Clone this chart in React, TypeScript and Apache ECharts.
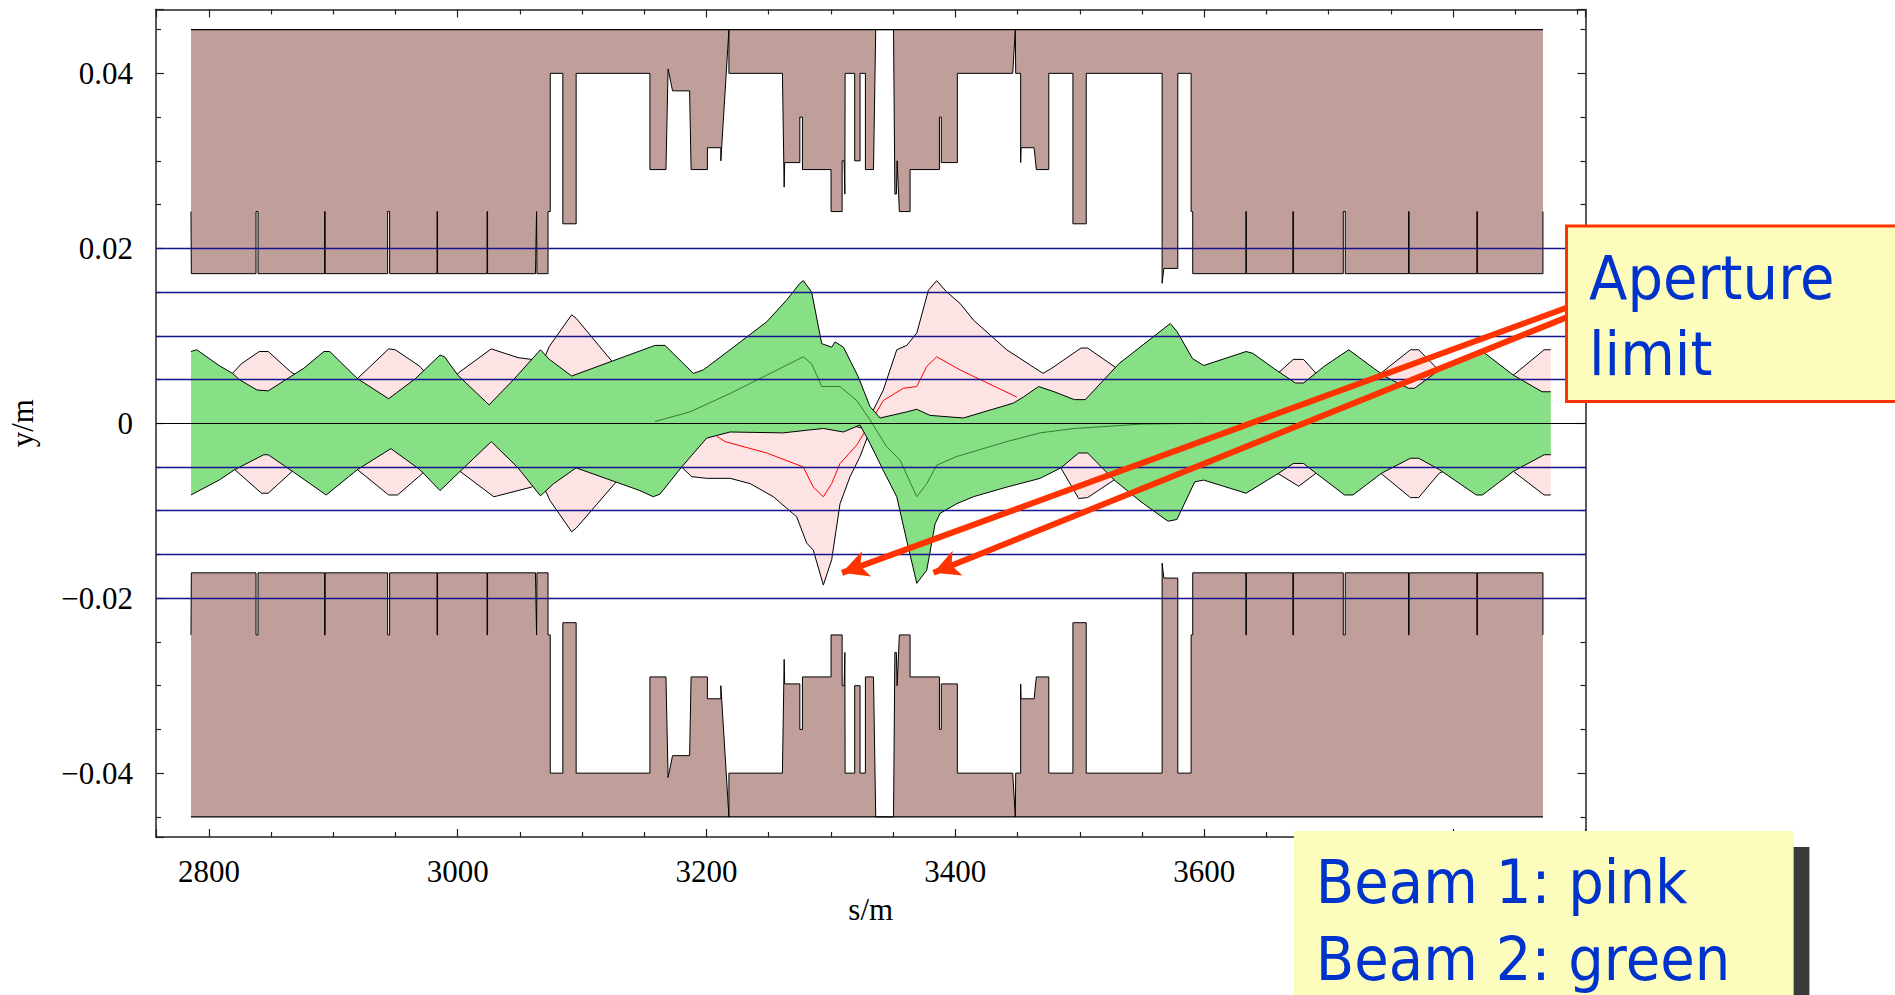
import React, { useEffect, useRef } from 'react';
import * as echarts from 'echarts';

// ---------------- axis ranges ----------------
const X_MIN = 2757.5;
const X_MAX = 3906.5;
const Y_MIN = -0.0473;
const Y_MAX = 0.0473;
const PIPE_EDGE = 0.045; // outer edge of the aperture shading (m)

// ---------------- aperture half-width a(s) (m) ----------------
const aperture: [number, number][] = [
  [2785.6, 0.0242], [2785.9, 0.0171],
  [2837.9, 0.0171], [2837.9, 0.0242], [2839.5, 0.0242], [2839.5, 0.0171],
  [2893.0, 0.0171], [2893.0, 0.0242], [2893.5, 0.0242], [2893.5, 0.0171],
  [2943.7, 0.0171], [2943.7, 0.0242], [2945.3, 0.0242], [2945.3, 0.0171],
  [2983.4, 0.0171], [2983.4, 0.0242], [2983.8, 0.0242], [2983.8, 0.0171],
  [3023.6, 0.0171], [3023.6, 0.0242], [3024.0, 0.0242], [3024.0, 0.0171],
  [3062.5, 0.0171], [3063.4, 0.0242], [3063.7, 0.0171],
  [3072.6, 0.0171], [3072.6, 0.0242], [3074.4, 0.0242], [3074.4, 0.0400],
  [3084.5, 0.0400], [3084.5, 0.0228], [3095.2, 0.0228], [3095.2, 0.0400],
  [3154.5, 0.0400], [3154.5, 0.0290], [3167.4, 0.0290], [3169.1, 0.0405], [3172.7, 0.0380],
  [3186.4, 0.0380], [3187.6, 0.0290], [3200.7, 0.0290], [3200.7, 0.0315],
  [3211.5, 0.0315], [3211.5, 0.0300], [3218.0, 0.0450], [3218.0, 0.0400],
  [3261.0, 0.0400], [3262.4, 0.0270], [3262.8, 0.0298], [3275.0, 0.0298], [3275.0, 0.0350],
  [3277.1, 0.0350], [3277.1, 0.0290], [3300.1, 0.0290], [3300.1, 0.0242],
  [3309.0, 0.0242], [3309.0, 0.0300], [3310.6, 0.0300], [3311.2, 0.0262], [3311.4, 0.0400],
  [3319.1, 0.0400], [3319.1, 0.0300], [3323.4, 0.0300], [3323.4, 0.0400],
  [3327.7, 0.0400], [3327.7, 0.0290], [3334.2, 0.0290], [3336.0, 0.0450],
  [3350.3, 0.0450], [3351.4, 0.0262], [3352.6, 0.0262], [3353.2, 0.0300], [3355.0, 0.0242],
  [3363.6, 0.0242], [3363.6, 0.0290], [3387.2, 0.0290], [3387.2, 0.0350],
  [3388.7, 0.0350], [3388.7, 0.0298], [3401.6, 0.0298], [3401.6, 0.0400],
  [3446.1, 0.0400], [3448.2, 0.0450], [3448.5, 0.0400], [3452.5, 0.0400], [3452.5, 0.0298],
  [3452.8, 0.0315], [3463.3, 0.0315], [3465.1, 0.0290], [3475.1, 0.0290], [3475.1, 0.0400],
  [3494.5, 0.0400], [3494.5, 0.0228], [3505.2, 0.0228], [3505.2, 0.0400],
  [3566.2, 0.0400], [3566.2, 0.0160], [3567.6, 0.0177], [3578.8, 0.0177], [3578.8, 0.0400],
  [3589.5, 0.0400], [3589.5, 0.0242], [3590.8, 0.0242], [3590.8, 0.0171],
  [3633.5, 0.0171], [3633.5, 0.0242], [3633.9, 0.0242], [3633.9, 0.0171],
  [3671.3, 0.0171], [3671.3, 0.0242], [3671.7, 0.0242], [3671.7, 0.0171],
  [3711.8, 0.0171], [3711.8, 0.0242], [3713.4, 0.0242], [3713.4, 0.0171],
  [3764.3, 0.0171], [3764.3, 0.0242], [3764.7, 0.0242], [3764.7, 0.0171],
  [3819.2, 0.0171], [3819.2, 0.0242], [3819.6, 0.0242], [3819.6, 0.0171],
  [3872.3, 0.0171], [3872.3, 0.0242],
];

// ---------------- Beam 1 (pink) envelope ----------------
const beam1Upper: [number, number][] = [
  [2785.6, 0.0036], [2800.0, 0.0041], [2819.0, 0.0057], [2826.1, 0.0068], [2840.5, 0.0082],
  [2847.7, 0.0082], [2865.6, 0.0059], [2880.0, 0.0046], [2894.3, 0.0037], [2919.4, 0.0051],
  [2944.5, 0.0085], [2949.9, 0.0084], [2969.6, 0.0065], [2986.0, 0.0038], [3001.9, 0.0059],
  [3027.0, 0.0085], [3048.5, 0.0075], [3059.3, 0.0073], [3066.5, 0.0064], [3073.7, 0.0088],
  [3091.6, 0.0124], [3095.2, 0.0120], [3123.9, 0.0071], [3140.0, 0.0055], [3160.0, 0.0040],
  [3190.0, 0.0014], [3220.0, -0.0003], [3260.0, -0.0001], [3290.0, 0.0004], [3312.0, -0.0001],
  [3327.0, -0.0006], [3333.0, 0.0012], [3342.1, 0.0038], [3352.9, 0.0084], [3360.9, 0.0089],
  [3369.0, 0.0103], [3378.3, 0.0152], [3385.0, 0.0163], [3393.1, 0.0150], [3403.8, 0.0137],
  [3414.5, 0.0118], [3441.3, 0.0084], [3459.7, 0.0067], [3470.5, 0.0057], [3477.6, 0.0063],
  [3501.0, 0.0086], [3506.3, 0.0086], [3529.6, 0.0063], [3560.0, 0.0046], [3590.0, 0.0038],
  [3625.0, 0.0046], [3660.0, 0.0058], [3671.6, 0.0073], [3679.9, 0.0073], [3690.0, 0.0057],
  [3716.0, 0.0036], [3742.7, 0.0058], [3765.8, 0.0084], [3772.4, 0.0084], [3789.0, 0.0060],
  [3822.0, 0.0036], [3848.5, 0.0055], [3873.3, 0.0084], [3878.6, 0.0084],
];
const beam1Lower: [number, number][] = [
  [2785.6, -0.0036], [2800.0, -0.0041], [2820.8, -0.0053], [2842.3, -0.0080], [2847.7, -0.0080],
  [2867.0, -0.0055], [2894.3, -0.0037], [2919.4, -0.0053], [2944.5, -0.0082], [2951.7, -0.0082],
  [2969.6, -0.0060], [2986.0, -0.0038], [3001.9, -0.0055], [3029.0, -0.0084], [3032.0, -0.0083],
  [3059.3, -0.0073], [3066.5, -0.0064], [3074.0, -0.0088], [3091.6, -0.0124], [3095.2, -0.0120],
  [3128.0, -0.0066], [3150.0, -0.0045], [3166.0, -0.0040], [3180.0, -0.0050], [3188.0, -0.0061],
  [3200.0, -0.0063], [3219.0, -0.0063], [3235.0, -0.0069], [3253.7, -0.0084], [3272.5, -0.0107],
  [3280.5, -0.0137], [3285.8, -0.0145], [3293.9, -0.0185], [3300.6, -0.0156], [3307.3, -0.0092],
  [3315.4, -0.0061], [3323.4, -0.0038], [3331.4, -0.0008], [3335.0, -0.0002], [3341.3, -0.0006],
  [3370.0, -0.0008], [3386.0, -0.0011], [3420.0, -0.0012], [3450.0, -0.0025], [3470.0, -0.0042],
  [3484.8, -0.0051], [3499.1, -0.0086], [3506.3, -0.0085], [3529.6, -0.0063], [3560.0, -0.0046],
  [3590.0, -0.0038], [3625.0, -0.0046], [3660.0, -0.0058], [3676.0, -0.0072], [3690.0, -0.0057],
  [3716.0, -0.0036], [3742.7, -0.0058], [3765.8, -0.0085], [3772.4, -0.0085], [3789.0, -0.0057],
  [3822.0, -0.0036], [3848.5, -0.0055], [3873.3, -0.0082], [3878.6, -0.0082],
];

// ---------------- Beam 2 (green) envelope ----------------
const beam2Upper: [number, number][] = [
  [2785.6, 0.0082], [2790.3, 0.0084], [2808.2, 0.0066], [2819.0, 0.0057], [2824.4, 0.0050],
  [2838.7, 0.0038], [2847.7, 0.0037], [2876.4, 0.0063], [2892.5, 0.0082], [2897.2, 0.0082],
  [2919.4, 0.0051], [2944.5, 0.0028], [2966.0, 0.0051], [2985.8, 0.0078], [2989.4, 0.0076],
  [3000.1, 0.0055], [3025.2, 0.0021], [3045.0, 0.0050], [3066.5, 0.0084], [3073.7, 0.0073],
  [3091.6, 0.0054], [3158.6, 0.0089], [3166.6, 0.0089], [3189.4, 0.0057], [3197.4, 0.0061],
  [3218.9, 0.0084], [3248.4, 0.0116], [3264.5, 0.0141], [3275.1, 0.0160], [3277.8, 0.0163],
  [3284.5, 0.0150], [3292.6, 0.0091], [3300.6, 0.0087], [3303.3, 0.0093], [3310.0, 0.0087],
  [3322.0, 0.0053], [3331.4, 0.0019], [3339.5, 0.0006], [3360.9, 0.0013], [3369.0, 0.0016],
  [3379.6, 0.0009], [3406.4, 0.0006], [3446.6, 0.0023], [3454.7, 0.0030], [3466.9, 0.0042],
  [3479.4, 0.0036], [3495.6, 0.0027], [3504.5, 0.0027], [3531.4, 0.0068], [3572.7, 0.0114],
  [3578.1, 0.0105], [3590.6, 0.0074], [3599.6, 0.0066], [3633.7, 0.0082], [3639.0, 0.0080],
  [3656.7, 0.0062], [3673.3, 0.0046], [3679.9, 0.0046], [3696.4, 0.0065], [3716.2, 0.0084],
  [3736.1, 0.0063], [3746.0, 0.0053], [3764.2, 0.0040], [3769.1, 0.0040], [3789.0, 0.0061],
  [3822.0, 0.0084], [3848.5, 0.0055], [3871.6, 0.0036], [3878.6, 0.0036],
];
const beam2Lower: [number, number][] = [
  [2785.6, -0.0082], [2808.2, -0.0065], [2820.8, -0.0053], [2844.1, -0.0036], [2847.7, -0.0036],
  [2869.2, -0.0057], [2894.3, -0.0082], [2919.4, -0.0053], [2946.3, -0.0029], [2969.6, -0.0053],
  [2985.8, -0.0077], [3001.9, -0.0055], [3027.0, -0.0021], [3048.5, -0.0051], [3066.5, -0.0083],
  [3077.2, -0.0069], [3095.2, -0.0051], [3146.5, -0.0077], [3157.2, -0.0084], [3162.6, -0.0081],
  [3180.0, -0.0050], [3200.1, -0.0017], [3218.9, -0.0010], [3261.7, -0.0011], [3280.5, -0.0008],
  [3293.9, -0.0006], [3310.0, -0.0010], [3323.4, -0.0002], [3331.4, -0.0023], [3342.1, -0.0054],
  [3352.9, -0.0084], [3360.9, -0.0134], [3369.0, -0.0183], [3377.0, -0.0168], [3383.7, -0.0115],
  [3387.7, -0.0103], [3401.1, -0.0092], [3414.5, -0.0084], [3441.3, -0.0073], [3468.1, -0.0063],
  [3484.8, -0.0051], [3499.1, -0.0034], [3506.3, -0.0034], [3527.8, -0.0065], [3549.4, -0.0090],
  [3570.9, -0.0112], [3578.1, -0.0110], [3592.4, -0.0067], [3599.6, -0.0065], [3633.7, -0.0080],
  [3660.0, -0.0057], [3671.6, -0.0046], [3679.9, -0.0046], [3689.8, -0.0057], [3712.9, -0.0082],
  [3719.6, -0.0082], [3742.7, -0.0057], [3765.8, -0.0040], [3772.4, -0.0040], [3789.0, -0.0053],
  [3818.7, -0.0082], [3823.7, -0.0082], [3848.5, -0.0055], [3873.3, -0.0036], [3878.6, -0.0036],
];

// ---------------- closed orbits ----------------
const beam1Orbit: [number, number][] = [
  [3208.2, -0.0015], [3214.9, -0.0021], [3248.4, -0.0034], [3277.8, -0.0050], [3285.8, -0.0073],
  [3293.9, -0.0084], [3300.6, -0.0069], [3307.3, -0.0046], [3320.7, -0.0025], [3331.4, 0.0000],
  [3342.1, 0.0026], [3358.2, 0.0040], [3369.0, 0.0042], [3377.0, 0.0065], [3385.0, 0.0076],
  [3403.8, 0.0061], [3449.3, 0.0030],
];
const beam2Orbit: [number, number][] = [
  [3158.6, 0.0002], [3186.7, 0.0013], [3218.9, 0.0034], [3248.4, 0.0055], [3277.8, 0.0076],
  [3284.5, 0.0068], [3292.6, 0.0042], [3307.3, 0.0042], [3320.7, 0.0026], [3331.4, 0.0004],
  [3344.8, -0.0027], [3355.5, -0.0042], [3369.0, -0.0084], [3377.0, -0.0069], [3385.0, -0.0048],
  [3401.1, -0.0038], [3441.3, -0.0021], [3468.1, -0.0011], [3495.6, -0.0006], [3549.4, -0.0001],
  [3600.0, 0.0000],
];

// ---------------- reference levels & annotation arrows ----------------
const guideLevels = [0.02, 0.015, 0.01, 0.005, 0, -0.005, -0.01, -0.015, -0.02];
const arrowTails: [number, number][] = [[3891.3, 0.0132], [3891.3, 0.0121]];
const arrowHeads: [number, number][] = [[3308.9, -0.0171], [3382.4, -0.0171]];

const AX_FONT = '"Liberation Serif", "Times New Roman", serif';
const BOX_FONT = '"DejaVu Sans", Verdana, sans-serif';

function apertureSeries(sign: number) {
  return {
    type: 'custom',
    z: 1,
    silent: true,
    encode: { x: 0, y: 1 },
    data: [[aperture[0][0], sign * aperture[0][1]]],
    renderItem: (_params: any, api: any) => {
      const prof = aperture.map(([s, a]) => api.coord([s, sign * a]));
      const s0 = aperture[0][0];
      const sN = aperture[aperture.length - 1][0];
      const e0 = api.coord([s0, sign * PIPE_EDGE]);
      const eN = api.coord([sN, sign * PIPE_EDGE]);
      return {
        type: 'group',
        children: [
          { type: 'polygon', shape: { points: [e0, ...prof, eN] }, style: { fill: '#C09E99', stroke: null } },
          { type: 'polyline', shape: { points: prof }, style: { stroke: '#000', lineWidth: 1, fill: null } },
          { type: 'polyline', shape: { points: [e0, eN] }, style: { stroke: '#000', lineWidth: 1.2, fill: null } },
        ],
      };
    },
  };
}

function beamSeries(upper: [number, number][], lower: [number, number][], fill: string, z: number) {
  return {
    type: 'custom',
    z,
    silent: true,
    encode: { x: 0, y: 1 },
    data: [[upper[0][0], upper[0][1]]],
    renderItem: (_params: any, api: any) => {
      const up = upper.map((p) => api.coord(p));
      const lo = lower.map((p) => api.coord(p));
      const poly = up.concat(lo.slice().reverse());
      return {
        type: 'group',
        children: [
          { type: 'polygon', shape: { points: poly }, style: { fill, stroke: null } },
          { type: 'polyline', shape: { points: up }, style: { stroke: '#000', lineWidth: 1, fill: null } },
          { type: 'polyline', shape: { points: lo }, style: { stroke: '#000', lineWidth: 1, fill: null } },
        ],
      };
    },
  };
}

const frameLine = { color: '#222', width: 1.5 };
const tickLine = { color: '#222', width: 1.2 };

function xAxisCfg(position: 'bottom' | 'top', labels: boolean) {
  return {
    type: 'value',
    position,
    min: X_MIN,
    max: X_MAX,
    splitNumber: 5,
    axisLine: { show: true, onZero: false, lineStyle: frameLine },
    axisTick: { show: true, inside: true, length: 8, lineStyle: tickLine },
    minorTick: { show: true, splitNumber: 4, length: 5, lineStyle: tickLine },
    splitLine: { show: false },
    minorSplitLine: { show: false },
    axisLabel: labels
      ? {
          show: true,
          showMinLabel: false,
          showMaxLabel: false,
          formatter: (v: number) => String(v),
          fontFamily: AX_FONT,
          fontSize: 31,
          color: '#000',
          margin: 19,
        }
      : { show: false },
    ...(labels
      ? {
          name: 's/m',
          nameLocation: 'middle',
          nameGap: 57,
          nameTextStyle: { fontFamily: AX_FONT, fontSize: 31, color: '#000' },
        }
      : {}),
  };
}

function yAxisCfg(position: 'left' | 'right', labels: boolean) {
  return {
    type: 'value',
    position,
    min: Y_MIN,
    max: Y_MAX,
    splitNumber: 5,
    axisLine: { show: true, onZero: false, lineStyle: frameLine },
    axisTick: { show: true, inside: true, length: 8, lineStyle: tickLine },
    minorTick: { show: true, splitNumber: 4, length: 5, lineStyle: tickLine },
    splitLine: { show: false },
    minorSplitLine: { show: false },
    axisLabel: labels
      ? {
          show: true,
          showMinLabel: false,
          showMaxLabel: false,
          formatter: (v: number) =>
            v === 0 ? '0' : (v < 0 ? '\u2212' : '') + Math.abs(v).toFixed(2),
          fontFamily: AX_FONT,
          fontSize: 31,
          color: '#000',
          margin: 23,
        }
      : { show: false },
    ...(labels
      ? {
          name: 'y/m',
          nameLocation: 'middle',
          nameRotate: 90,
          nameGap: 118,
          nameTextStyle: { fontFamily: AX_FONT, fontSize: 31, color: '#000' },
        }
      : {}),
  };
}

const option: any = {
  animation: false,
  backgroundColor: '#fff',
  grid: { left: 156, right: 309.5, top: 9.5, bottom: 158, containLabel: false, outerBoundsMode: 'none' },
  xAxis: [xAxisCfg('bottom', true), xAxisCfg('top', false)],
  yAxis: [yAxisCfg('left', true), yAxisCfg('right', false)],
  series: [
    apertureSeries(1),
    apertureSeries(-1),
    beamSeries(beam1Upper, beam1Lower, '#FDE3E3', 2),
    {
      type: 'line',
      z: 2.5,
      silent: true,
      symbol: 'none',
      data: beam1Orbit,
      lineStyle: { color: '#FF0000', width: 1 },
    },
    beamSeries(beam2Upper, beam2Lower, '#87E085', 3),
    {
      type: 'line',
      z: 3.5,
      silent: true,
      symbol: 'none',
      data: beam2Orbit,
      lineStyle: { color: '#2F7F2F', width: 1 },
    },
    {
      type: 'line',
      z: 5,
      silent: true,
      symbol: 'none',
      data: [[X_MIN, 0]],
      lineStyle: { opacity: 0 },
      markLine: {
        silent: true,
        z: 5,
        precision: 4,
        symbol: ['none', 'none'],
        label: { show: false },
        data: guideLevels.map((v) => ({
          yAxis: v,
          lineStyle: { color: v === 0 ? '#000' : '#14148C', width: v === 0 ? 1.2 : 1.4, type: 'solid' },
        })),
      },
    },
    {
      type: 'line',
      z: 6,
      silent: true,
      symbol: 'none',
      data: [[X_MIN, 0]],
      lineStyle: { opacity: 0 },
      markLine: {
        silent: true,
        z: 6,
        precision: 4,
        symbol: ['none', 'arrow'],
        symbolSize: [20, 26],
        label: { show: false },
        lineStyle: { color: '#FF3300', width: 6, type: 'solid', opacity: 1 },
        data: arrowHeads.map((h, i) => [{ coord: arrowTails[i] }, { coord: h }]),
      },
    },
  ],
  graphic: [
    {
      type: 'rect',
      z: 100,
      shape: { x: 1566.5, y: 226, width: 360, height: 175.5 },
      style: { fill: '#FCFCBC', stroke: '#FF3300', lineWidth: 3 },
    },
    {
      type: 'text',
      z: 101,
      x: 1589,
      y: 278,
      scaleX: 0.92,
      style: { text: 'Aperture', fontSize: 61, fontFamily: BOX_FONT, fill: '#0033CC', align: 'left', verticalAlign: 'middle' },
    },
    {
      type: 'text',
      z: 101,
      x: 1589,
      y: 354.5,
      scaleX: 0.92,
      style: { text: 'limit', fontSize: 61, fontFamily: BOX_FONT, fill: '#0033CC', align: 'left', verticalAlign: 'middle' },
    },
    {
      type: 'rect',
      z: 100,
      shape: { x: 1793.4, y: 847, width: 16, height: 160 },
      style: { fill: '#3A3A3A' },
    },
    {
      type: 'rect',
      z: 100,
      shape: { x: 1294, y: 831, width: 499.4, height: 200 },
      style: { fill: '#FCFCBC' },
    },
    {
      type: 'text',
      z: 101,
      x: 1315.8,
      y: 882,
      scaleX: 0.92,
      style: { text: 'Beam 1: pink', fontSize: 61, fontFamily: BOX_FONT, fill: '#0033CC', align: 'left', verticalAlign: 'middle' },
    },
    {
      type: 'text',
      z: 101,
      x: 1315.8,
      y: 959,
      scaleX: 0.92,
      style: { text: 'Beam 2: green', fontSize: 61, fontFamily: BOX_FONT, fill: '#0033CC', align: 'left', verticalAlign: 'middle' },
    },
  ],
};

export default function App() {
  const ref = useRef<HTMLDivElement>(null);
  useEffect(() => {
    if (!ref.current) return;
    const chart = echarts.init(ref.current, null, { renderer: 'svg' });
    chart.setOption(option);
    return () => chart.dispose();
  }, []);
  return (
    <div
      ref={ref}
      style={{ position: 'absolute', left: 0, top: 0, width: 1895, height: 995, background: '#fff' }}
    />
  );
}
